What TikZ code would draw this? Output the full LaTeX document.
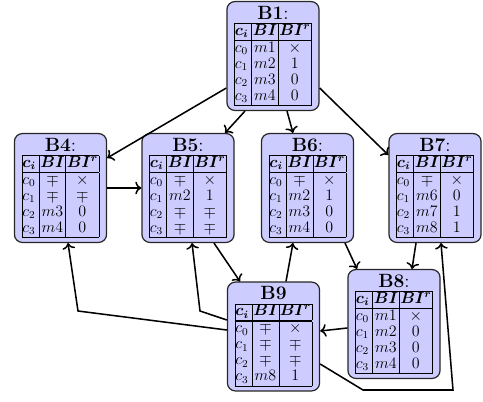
\documentclass[tikz,border=0pt]{standalone}
\usepackage{amsmath}
\usepackage{array}
\usetikzlibrary{calc,arrows.meta}
\newcolumntype{C}[1]{>{\centering\arraybackslash}p{#1}}
\newcolumntype{L}[1]{>{\raggedright\arraybackslash}p{#1}}
\newcommand{\rw}[3]{$c_{#1}$&$#2$&$#3$\\}
\newcommand{\blocktab}[3]{%
\begin{tabular}{@{}c@{}}%
{\Large\textbf{#1}#2}\\[-0.6pt]
{\fontsize{12}{12}\selectfont\setlength{\tabcolsep}{0pt}%
\begin{tabular}{|L{12.5pt}|C{19.5pt}|C{24.5pt}|}\hline
$\boldsymbol{c_i}$&$\boldsymbol{BI}$&$\boldsymbol{BI^r}$\\\noalign{\hrule height 1pt}
#3\hline
\end{tabular}}%
\end{tabular}}
\begin{document}
\begin{tikzpicture}[x=0.75pt,y=-0.75pt,
  blk/.style={draw=black!85, line width=0.9pt, fill=blue!20, rounded corners=6pt, inner xsep=5.5pt, inner ysep=3.5pt},
  arr/.style={-{To[scale=1.1]}, line width=1.15pt}]
\useasboundingbox (0,0) rectangle (483,401);
\node[blk] (B1) at (273,56) {\blocktab{B1}{:}{\rw{0}{m1}{\times}\rw{1}{m2}{1}\rw{2}{m3}{0}\rw{3}{m4}{0}}};
\node[blk] (B4) at (60.5,188) {\blocktab{B4}{:}{\rw{0}{\mp}{\times}\rw{1}{\mp}{\mp}\rw{2}{m3}{0}\rw{3}{m4}{0}}};
\node[blk] (B5) at (188,188) {\blocktab{B5}{:}{\rw{0}{\mp}{\times}\rw{1}{m2}{1}\rw{2}{\mp}{\mp}\rw{3}{\mp}{\mp}}};
\node[blk] (B6) at (307.5,188) {\blocktab{B6}{:}{\rw{0}{\mp}{\times}\rw{1}{m2}{1}\rw{2}{m3}{0}\rw{3}{m4}{0}}};
\node[blk] (B7) at (435,188) {\blocktab{B7}{:}{\rw{0}{\mp}{\times}\rw{1}{m6}{0}\rw{2}{m7}{1}\rw{3}{m8}{1}}};
\node[blk] (B8) at (394,324) {\blocktab{B8}{:}{\rw{0}{m1}{\times}\rw{1}{m2}{0}\rw{2}{m3}{0}\rw{3}{m4}{0}}};
\node[blk] (B9) at (273.5,336.5) {\blocktab{B9}{}{\rw{0}{\mp}{\times}\rw{1}{\mp}{\mp}\rw{2}{\mp}{\mp}\rw{3}{m8}{1}}};
\coordinate (k1) at (200,311);
\coordinate (k2) at (78,311);
\coordinate (k3) at (363,390);
\coordinate (k4) at (453,390);
\draw[arr] ($(B1.west)+(0,32)$) -- ($(B4.east)+(0,-30)$);
\draw[arr] ($(B1.south)+(-28,0)$) -- ($(B5.north)+(37,0)$);
\draw[arr] ($(B1.south)+(14,0)$) -- ($(B6.north)+(-14.5,0)$);
\draw[arr] ($(B1.east)+(0,32)$) -- ($(B7.west)+(0,-33)$);
\draw[arr] (B4.east) -- (B5.west);
\draw[arr] ($(B5.south)+(26,0)$) -- ($(B9.north)+(-33.5,0)$);
\draw[arr] ($(B9.west)+(0,-16.5)$) -- (k1) -- ($(B5.south)+(4,0)$);
\draw[arr] ($(B9.west)+(0,-6.5)$) -- (k2) -- ($(B4.south)+(7.5,0)$);
\draw[arr] ($(B9.north)+(12.5,0)$) -- ($(B6.south)+(-14.5,0)$);
\draw[arr] ($(B6.south)+(37.5,0)$) -- ($(B8.north)+(-37,0)$);
\draw[arr] ($(B7.south)+(-19,0)$) -- ($(B8.north)+(18,0)$);
\draw[arr] ($(B8.west)+(0,4)$) -- ($(B9.east)+(0,-5.5)$);
\draw[arr] ($(B9.east)+(0,27.5)$) -- (k3) -- (k4) -- ($(B7.south)+(6,0)$);
\end{tikzpicture}
\end{document}
